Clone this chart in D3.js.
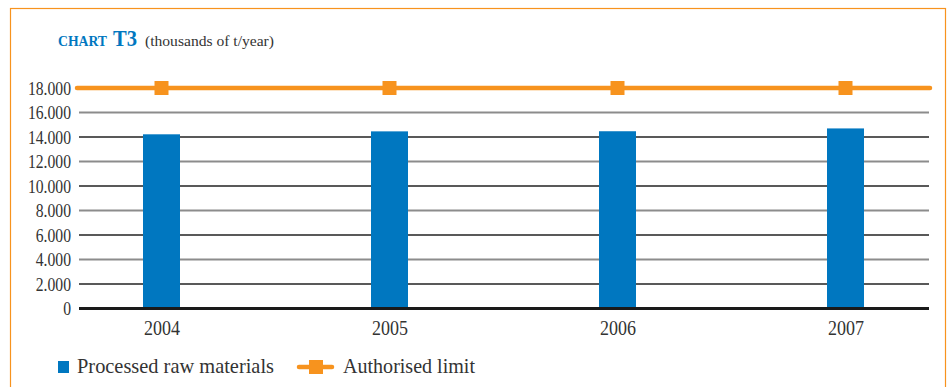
<!DOCTYPE html>
<html>
<head>
<meta charset="utf-8">
<script src="https://cdn.jsdelivr.net/npm/d3@7"></script>
<style>
  html, body { margin: 0; padding: 0; background: #fff; }
  svg { display: block; }
</style>
</head>
<body>
<svg id="chart" width="947" height="387"></svg>
<script>
// Chart T3 — processed raw materials vs authorised limit (thousands of t/year)
const years = ["2004", "2005", "2006", "2007"];
const processed = [14220, 14460, 14470, 14700];
const authorisedLimit = [18000, 18000, 18000, 18000];
const yTicks = [0, 2000, 4000, 6000, 8000, 10000, 12000, 14000, 16000, 18000];

const BLUE = "#0077c0";
const ORANGE = "#f7931e";
const TEXT = "#333";
const SERIF = "\"Liberation Serif\"";

const svg = d3.select("#chart");

// every label uses the serif face
function serif(sel) {
  sel.attr("font-family", "Liberation Serif").style("font-family", SERIF);
}

// narrow a text run horizontally (the typeface is a condensed serif)
function condense(sel, k) {
  sel.each(function () {
    const w = this.getComputedTextLength();
    d3.select(this).attr("textLength", w * k).attr("lengthAdjust", "spacingAndGlyphs");
  });
}

// frame
svg.append("rect")
  .attr("x", 10.5).attr("y", 8.5)
  .attr("width", 935).attr("height", 400)
  .attr("fill", "none")
  .attr("stroke", ORANGE)
  .attr("stroke-width", 1.2);

// title
svg.append("text").attr("x", 58).attr("y", 46).call(serif)
  .attr("font-size", 14).attr("font-weight", "bold")
  .attr("fill", BLUE).attr("textLength", 49).attr("lengthAdjust", "spacingAndGlyphs")
  .text("CHART");
svg.append("text").attr("x", 113).attr("y", 46).call(serif)
  .attr("font-size", 24).attr("font-weight", "bold")
  .attr("fill", BLUE).attr("textLength", 24).attr("lengthAdjust", "spacingAndGlyphs")
  .text("T3");
svg.append("text").attr("x", 145).attr("y", 46).call(serif)
  .attr("font-size", 15)
  .attr("fill", TEXT).attr("textLength", 129).attr("lengthAdjust", "spacingAndGlyphs")
  .text("(thousands of t/year)");

const plotLeft = 79, plotRight = 929;

const x = d3.scalePoint().domain(years).range([161.5, 845.5]);
const y = d3.scaleLinear().domain([0, 18000]).range([308.5, 88]);

const fmt = v => v === 0 ? "0" : d3.format(",")(v).replace(/,/g, ".");

// gridlines: alternating grey / black
svg.append("g").selectAll("line")
  .data(yTicks.filter(t => t > 0 && t < 18000))
  .join("line")
  .attr("x1", plotLeft).attr("x2", plotRight)
  .attr("y1", d => y(d)).attr("y2", d => y(d))
  .attr("stroke", d => (d / 2000) % 2 === 0 ? "#8c8c8c" : "#222")
  .attr("stroke-width", d => (d / 2000) % 2 === 0 ? 1.8 : 1.3);

// y axis labels
const yAxis = d3.axisLeft(y).tickValues(yTicks).tickFormat(fmt).tickSize(0).tickPadding(0);
const ya = svg.append("g").attr("transform", "translate(71,0)").call(yAxis);
ya.call(serif);
ya.select(".domain").remove();
ya.selectAll("text").call(serif)
  .attr("font-size", 18)
  .attr("fill", TEXT)
  .attr("dy", "0.34em")
  .call(condense, 0.87);

// bars
const barW = 37;
svg.append("g").selectAll("rect")
  .data(processed)
  .join("rect")
  .attr("x", (d, i) => x(years[i]) - barW / 2)
  .attr("width", barW)
  .attr("y", d => y(d))
  .attr("height", d => y(0) - y(d))
  .attr("fill", BLUE);

// baseline
svg.append("line")
  .attr("x1", plotLeft).attr("x2", plotRight)
  .attr("y1", y(0)).attr("y2", y(0))
  .attr("stroke", "#1a1a1a").attr("stroke-width", 3);

// x axis labels
const xAxis = d3.axisBottom(x).tickSize(0).tickPadding(0);
const xa = svg.append("g").attr("transform", `translate(0,${y(0)})`).call(xAxis);
xa.call(serif);
xa.select(".domain").remove();
xa.selectAll("text").call(serif)
  .attr("font-size", 20)
  .attr("fill", TEXT)
  .attr("y", 26.5).attr("dy", null)
  .call(condense, 0.9);

// authorised limit line across the plot
svg.append("line")
  .attr("x1", plotLeft - 2).attr("x2", plotRight + 1)
  .attr("y1", y(authorisedLimit[0])).attr("y2", y(authorisedLimit[0]))
  .attr("stroke", ORANGE).attr("stroke-width", 4.5)
  .attr("stroke-linecap", "round");

const sq = 14;
svg.append("g").selectAll("rect")
  .data(authorisedLimit)
  .join("rect")
  .attr("x", (d, i) => x(years[i]) - sq / 2)
  .attr("y", d => y(d) - sq / 2)
  .attr("width", sq).attr("height", sq)
  .attr("fill", ORANGE);

// legend
const lg = svg.append("g");
lg.append("rect").attr("x", 58).attr("y", 361).attr("width", 11).attr("height", 12).attr("fill", BLUE);
lg.append("text").attr("x", 77).attr("y", 373).call(serif)
  .attr("font-size", 21).attr("fill", TEXT)
  .attr("textLength", 197).attr("lengthAdjust", "spacingAndGlyphs")
  .text("Processed raw materials");
lg.append("line").attr("x1", 299).attr("x2", 332).attr("y1", 367).attr("y2", 367)
  .attr("stroke", ORANGE).attr("stroke-width", 4.5).attr("stroke-linecap", "round");
lg.append("rect").attr("x", 309).attr("y", 360).attr("width", 14).attr("height", 14).attr("fill", ORANGE);
lg.append("text").attr("x", 343).attr("y", 373).call(serif)
  .attr("font-size", 21).attr("fill", TEXT)
  .attr("textLength", 132).attr("lengthAdjust", "spacingAndGlyphs")
  .text("Authorised limit");
</script>
</body>
</html>
